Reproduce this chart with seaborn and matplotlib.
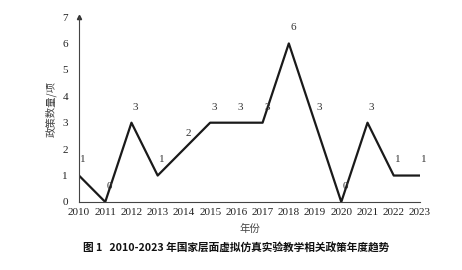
import matplotlib
matplotlib.use("Agg")
import matplotlib.pyplot as plt
import seaborn as sns
import pandas as pd

years = [2010, 2011, 2012, 2013, 2014, 2015, 2016, 2017, 2018, 2019, 2020, 2021, 2022, 2023]
counts = [1, 0, 3, 1, 2, 3, 3, 3, 6, 3, 0, 3, 1, 1]
y_ticks = [0, 1, 2, 3, 4, 5, 6, 7]
x_label = "年份"
y_label = "政策数量/项"
caption = "图 1   2010-2023 年国家层面虚拟仿真实验教学相关政策年度趋势"

sns.set_theme(style="white")
plt.rcParams['font.family'] = ['Liberation Serif', 'Noto Sans CJK SC', 'DejaVu Sans']

df = pd.DataFrame({"year": years, "count": counts})

fig = plt.figure(figsize=(4.62, 2.70), dpi=100)
ax = fig.add_axes([0.171, 0.252, 0.738, 0.685])
sns.lineplot(data=df, x="year", y="count", ax=ax, color="#1a1a1a", linewidth=1.6)

for x, y in zip(years, counts):
    ax.annotate(str(y), (x, y), xytext=(3, 8), textcoords="offset points",
                ha="center", va="bottom", fontsize=8, color="#333333",
                family=['Liberation Serif'])

ax.set_xlim(2010, 2023)
ax.set_ylim(0, 7)
ax.set_xticks(years)
ax.set_xticklabels([str(y) for y in years], fontsize=8, family=['Liberation Serif'])
ax.set_yticks(y_ticks)
ax.set_yticklabels([str(v) for v in y_ticks], fontsize=8, family=['Liberation Serif'])
ax.tick_params(axis="both", direction="in", length=2, width=0.6, colors="#555555",
               labelcolor="#222222")
ax.tick_params(axis="y", pad=8)
ax.tick_params(axis="x", pad=4)
ax.set_xlabel(x_label, fontsize=7.5, family=['Noto Sans CJK SC'], color="#444444", labelpad=5)
ax.set_ylabel(y_label, fontsize=7.5, family=['Noto Sans CJK SC'], color="#444444", labelpad=4)

for s in ["top", "right"]:
    ax.spines[s].set_visible(False)
for s in ["left", "bottom"]:
    ax.spines[s].set_color("#444444")
    ax.spines[s].set_linewidth(0.8)
ax.plot(0, 1, marker="^", markersize=3, color="#333333", transform=ax.transAxes, clip_on=False)

fig.text(0.18, 0.085, caption, fontsize=7.7, fontweight="bold",
         family=['Noto Sans CJK SC', 'DejaVu Sans'], color="#111111", ha="left", va="center")

fig.savefig("out.png", dpi=100)
